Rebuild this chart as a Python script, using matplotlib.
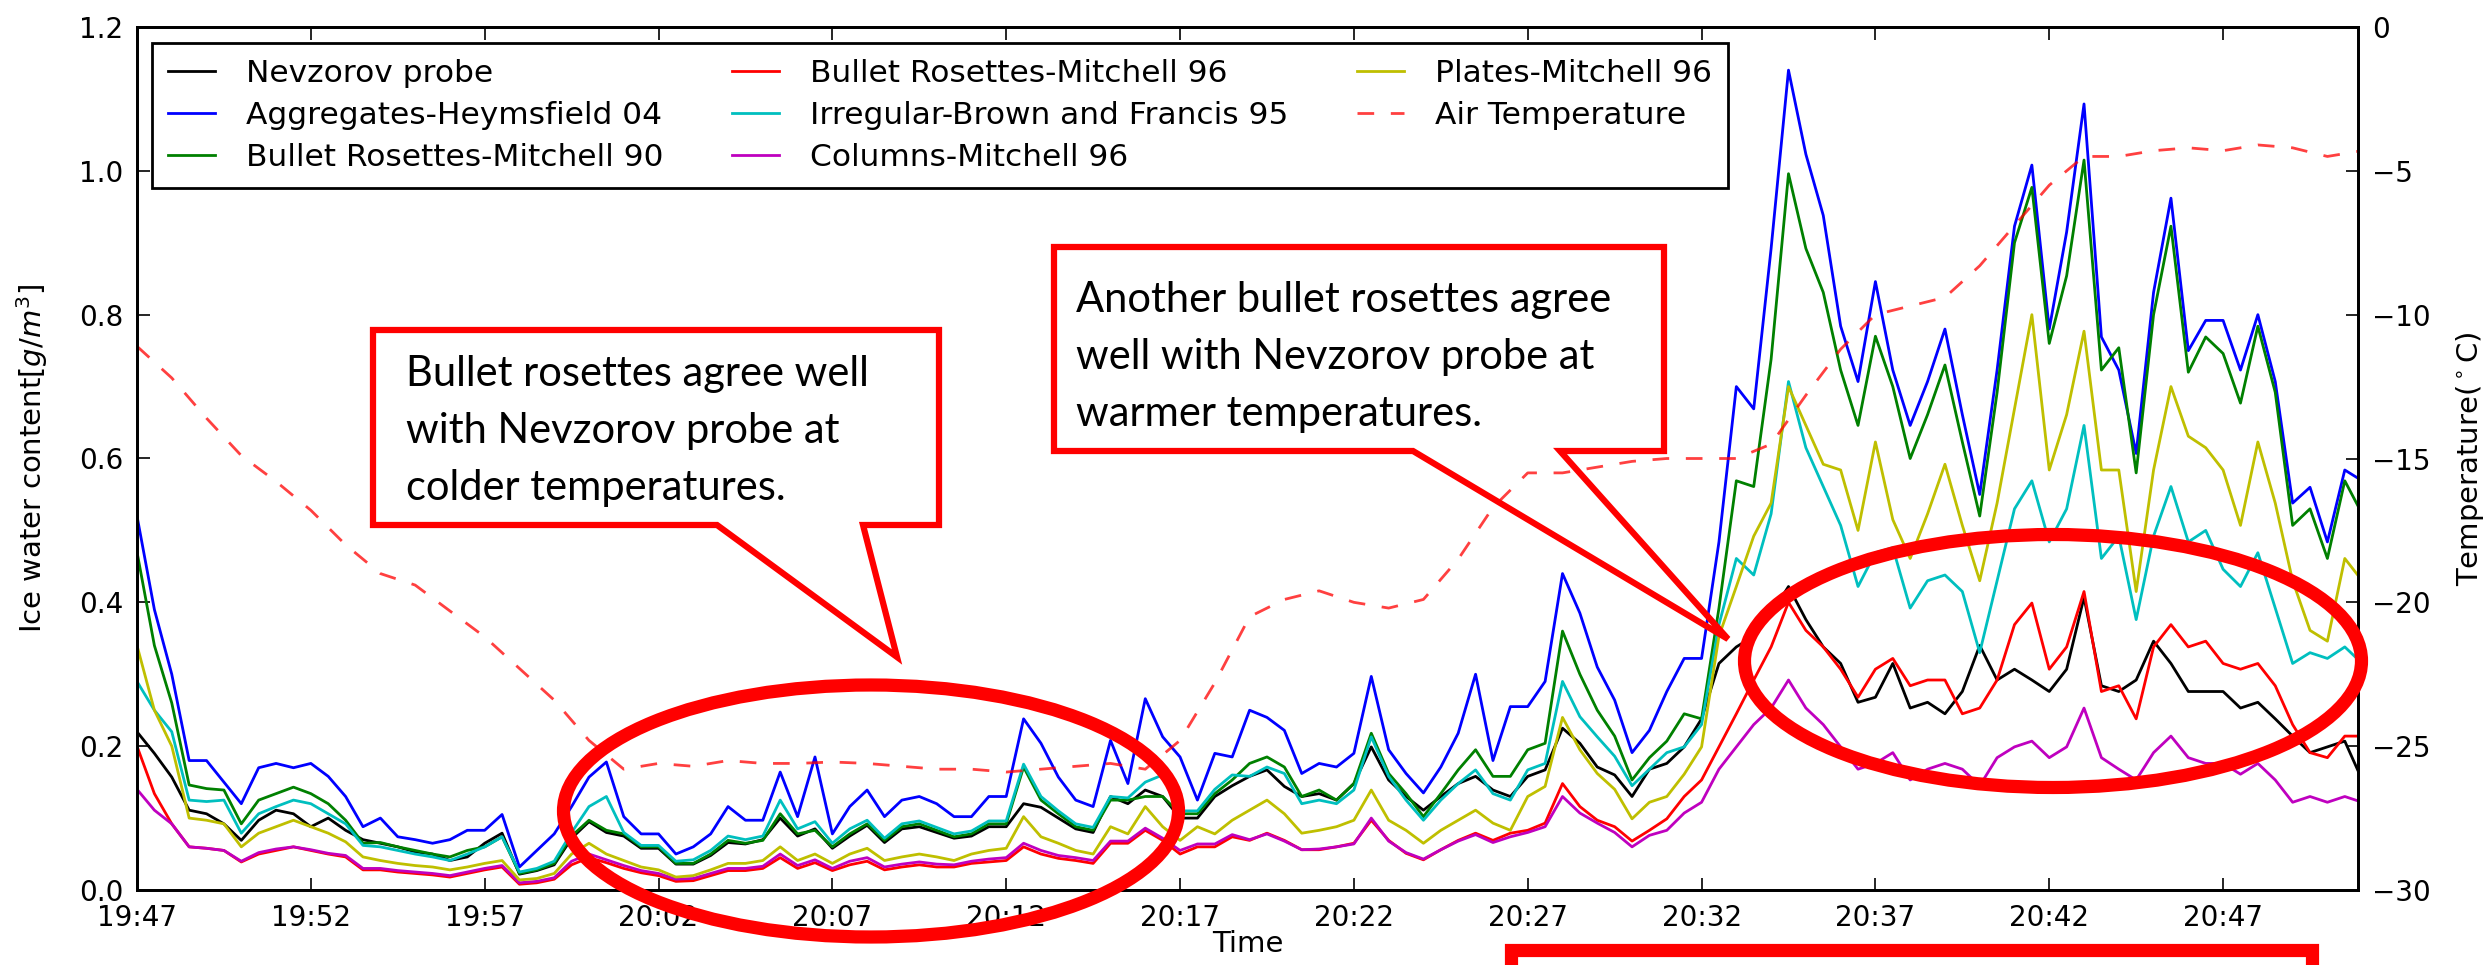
import numpy as np
import pandas as pd
import matplotlib
matplotlib.use("Agg")
import matplotlib.pyplot as plt
import matplotlib.dates as mdates
from matplotlib.patches import Ellipse, Polygon, Rectangle

# ice water content [g/m^3], one sample every 30 s starting 19:47:00
nevzorov = [
    0.22, 0.19, 0.157, 0.111, 0.106, 0.092, 0.069, 0.097, 0.111, 0.106, 0.088,
    0.10, 0.083, 0.07, 0.065, 0.06, 0.053, 0.05, 0.041, 0.046, 0.065, 0.079,
    0.022, 0.027, 0.035, 0.072, 0.095, 0.08, 0.075, 0.058, 0.058, 0.036, 0.036,
    0.048, 0.066, 0.064, 0.07, 0.10, 0.075, 0.085, 0.058, 0.075, 0.09,
    0.066, 0.085, 0.088, 0.08, 0.072, 0.075, 0.088, 0.088, 0.12, 0.115, 0.10,
    0.085, 0.08, 0.13, 0.12, 0.139, 0.13, 0.10, 0.10, 0.13, 0.145,
    0.158, 0.167, 0.144, 0.13, 0.134, 0.125, 0.148, 0.199, 0.153, 0.13, 0.111,
    0.13, 0.148, 0.158, 0.139, 0.13, 0.158, 0.167, 0.225, 0.204, 0.171, 0.16,
    0.13, 0.168, 0.176, 0.199, 0.238, 0.315, 0.338, 0.353, 0.384, 0.422, 0.376,
    0.338, 0.315, 0.261, 0.268, 0.315, 0.253, 0.261, 0.245, 0.276, 0.34,
    0.292, 0.307, 0.292, 0.276, 0.307, 0.407, 0.284, 0.276, 0.292, 0.346, 0.315,
    0.276, 0.276, 0.276, 0.253, 0.261, 0.238, 0.214, 0.191, 0.199, 0.207, 0.153,
]
aggregates_h04 = [
    0.52, 0.39, 0.30, 0.18, 0.18, 0.15, 0.12, 0.17, 0.176, 0.17, 0.176,
    0.158, 0.13, 0.088, 0.10, 0.074, 0.07, 0.065, 0.07, 0.083, 0.083, 0.105,
    0.032, 0.055, 0.078, 0.116, 0.157, 0.178, 0.102, 0.078, 0.078, 0.05, 0.06,
    0.078, 0.116, 0.097, 0.097, 0.164, 0.102, 0.185, 0.078, 0.116, 0.139,
    0.102, 0.125, 0.13, 0.12, 0.102, 0.102, 0.13, 0.13, 0.238, 0.204, 0.157,
    0.125, 0.116, 0.208, 0.148, 0.266, 0.213, 0.185, 0.125, 0.19, 0.185,
    0.25, 0.24, 0.222, 0.162, 0.176, 0.171, 0.19, 0.297, 0.195, 0.162, 0.135,
    0.171, 0.218, 0.30, 0.18, 0.255, 0.255, 0.29, 0.44, 0.385, 0.31, 0.264,
    0.191, 0.222, 0.276, 0.322, 0.322, 0.484, 0.70, 0.669, 0.892, 1.14, 1.023,
    0.938, 0.784, 0.707, 0.846, 0.723, 0.646, 0.707, 0.78, 0.661, 0.55,
    0.723, 0.923, 1.008, 0.78, 0.915, 1.093, 0.769, 0.723, 0.607, 0.831, 0.962,
    0.75, 0.792, 0.792, 0.723, 0.80, 0.707, 0.538, 0.56, 0.484, 0.584, 0.569,
]
rosettes_m90 = [
    0.47, 0.34, 0.26, 0.146, 0.141, 0.139, 0.092, 0.125, 0.134, 0.143, 0.134,
    0.12, 0.097, 0.065, 0.066, 0.06, 0.055, 0.05, 0.046, 0.055, 0.06, 0.074,
    0.023, 0.028, 0.037, 0.075, 0.097, 0.083, 0.078, 0.06, 0.06, 0.037, 0.037,
    0.05, 0.069, 0.065, 0.069, 0.106, 0.078, 0.083, 0.06, 0.078, 0.092,
    0.069, 0.088, 0.092, 0.083, 0.074, 0.078, 0.092, 0.092, 0.171, 0.125, 0.106,
    0.088, 0.083, 0.125, 0.125, 0.13, 0.13, 0.106, 0.106, 0.134, 0.153,
    0.176, 0.185, 0.171, 0.13, 0.139, 0.125, 0.148, 0.218, 0.162, 0.134, 0.102,
    0.134, 0.167, 0.195, 0.158, 0.158, 0.195, 0.204, 0.36, 0.30, 0.25, 0.214,
    0.153, 0.184, 0.207, 0.245, 0.238, 0.392, 0.569, 0.561, 0.738, 0.996, 0.892,
    0.831, 0.723, 0.646, 0.77, 0.70, 0.60, 0.661, 0.73, 0.623, 0.52,
    0.692, 0.90, 0.977, 0.76, 0.854, 1.015, 0.723, 0.754, 0.58, 0.80, 0.923,
    0.72, 0.769, 0.746, 0.677, 0.784, 0.692, 0.507, 0.53, 0.461, 0.569, 0.523,
]
rosettes_m96 = [
    0.20, 0.134, 0.092, 0.06, 0.058, 0.055, 0.039, 0.05, 0.055, 0.06, 0.055,
    0.05, 0.046, 0.028, 0.028, 0.025, 0.023, 0.021, 0.018, 0.023, 0.028, 0.032,
    0.008, 0.01, 0.015, 0.035, 0.045, 0.038, 0.03, 0.024, 0.02, 0.012, 0.013,
    0.02, 0.027, 0.027, 0.03, 0.045, 0.03, 0.038, 0.027, 0.035, 0.04,
    0.028, 0.032, 0.035, 0.032, 0.032, 0.037, 0.039, 0.041, 0.06, 0.05, 0.044,
    0.041, 0.037, 0.065, 0.065, 0.083, 0.069, 0.05, 0.06, 0.06, 0.074,
    0.069, 0.079, 0.069, 0.056, 0.056, 0.06, 0.065, 0.097, 0.069, 0.051, 0.042,
    0.056, 0.069, 0.079, 0.069, 0.079, 0.083, 0.093, 0.148, 0.116, 0.097, 0.088,
    0.068, 0.083, 0.099, 0.13, 0.153, 0.199, 0.245, 0.292, 0.338, 0.40, 0.361,
    0.338, 0.307, 0.268, 0.307, 0.322, 0.284, 0.292, 0.292, 0.245, 0.253,
    0.292, 0.369, 0.399, 0.307, 0.338, 0.415, 0.276, 0.284, 0.238, 0.338, 0.369,
    0.338, 0.346, 0.315, 0.307, 0.315, 0.284, 0.23, 0.191, 0.184, 0.214, 0.214,
]
irregular_bf95 = [
    0.29, 0.25, 0.22, 0.125, 0.123, 0.125, 0.079, 0.106, 0.116, 0.125, 0.12,
    0.106, 0.092, 0.062, 0.06, 0.055, 0.05, 0.046, 0.041, 0.05, 0.06, 0.074,
    0.025, 0.03, 0.04, 0.08, 0.116, 0.13, 0.08, 0.062, 0.062, 0.04, 0.042,
    0.055, 0.075, 0.07, 0.075, 0.125, 0.085, 0.095, 0.065, 0.085, 0.097,
    0.072, 0.092, 0.096, 0.087, 0.078, 0.082, 0.096, 0.096, 0.175, 0.13, 0.11,
    0.092, 0.087, 0.13, 0.128, 0.15, 0.16, 0.11, 0.11, 0.14, 0.16,
    0.158, 0.171, 0.162, 0.12, 0.125, 0.12, 0.139, 0.213, 0.158, 0.125, 0.097,
    0.125, 0.148, 0.167, 0.134, 0.125, 0.167, 0.176, 0.29, 0.241, 0.213, 0.186,
    0.145, 0.168, 0.191, 0.199, 0.23, 0.369, 0.461, 0.438, 0.523, 0.707, 0.615,
    0.561, 0.507, 0.422, 0.469, 0.476, 0.392, 0.43, 0.438, 0.415, 0.33,
    0.43, 0.53, 0.569, 0.484, 0.53, 0.646, 0.461, 0.492, 0.376, 0.492, 0.561,
    0.484, 0.50, 0.446, 0.422, 0.469, 0.392, 0.315, 0.33, 0.322, 0.338, 0.315,
]
columns_m96 = [
    0.14, 0.111, 0.092, 0.06, 0.058, 0.055, 0.04, 0.052, 0.057, 0.06, 0.056,
    0.051, 0.048, 0.03, 0.03, 0.027, 0.025, 0.023, 0.02, 0.025, 0.03, 0.034,
    0.01, 0.012, 0.017, 0.04, 0.05, 0.042, 0.034, 0.027, 0.023, 0.015, 0.016,
    0.023, 0.03, 0.03, 0.033, 0.05, 0.034, 0.042, 0.03, 0.04, 0.045,
    0.032, 0.036, 0.039, 0.036, 0.035, 0.04, 0.043, 0.045, 0.065, 0.055, 0.048,
    0.045, 0.041, 0.068, 0.068, 0.086, 0.072, 0.055, 0.064, 0.064, 0.077,
    0.07, 0.078, 0.068, 0.056, 0.057, 0.06, 0.064, 0.10, 0.068, 0.052, 0.043,
    0.056, 0.068, 0.077, 0.066, 0.074, 0.08, 0.088, 0.13, 0.107, 0.093, 0.08,
    0.06, 0.076, 0.083, 0.107, 0.122, 0.168, 0.199, 0.23, 0.253, 0.292, 0.253,
    0.23, 0.199, 0.168, 0.176, 0.191, 0.153, 0.168, 0.176, 0.168, 0.145,
    0.184, 0.199, 0.207, 0.184, 0.199, 0.253, 0.184, 0.168, 0.153, 0.191, 0.214,
    0.184, 0.176, 0.176, 0.161, 0.176, 0.153, 0.122, 0.13, 0.122, 0.13, 0.122,
]
plates_m96 = [
    0.34, 0.25, 0.20, 0.10, 0.097, 0.092, 0.06, 0.079, 0.088, 0.097, 0.088,
    0.079, 0.067, 0.046, 0.041, 0.037, 0.034, 0.032, 0.028, 0.032, 0.037, 0.041,
    0.014, 0.016, 0.023, 0.05, 0.065, 0.05, 0.041, 0.032, 0.028, 0.018, 0.02,
    0.028, 0.037, 0.037, 0.041, 0.06, 0.041, 0.05, 0.037, 0.05, 0.058,
    0.041, 0.046, 0.05, 0.046, 0.041, 0.05, 0.055, 0.058, 0.102, 0.074, 0.065,
    0.055, 0.05, 0.088, 0.078, 0.116, 0.088, 0.069, 0.088, 0.078, 0.097,
    0.111, 0.125, 0.106, 0.079, 0.083, 0.088, 0.097, 0.139, 0.097, 0.083, 0.065,
    0.083, 0.097, 0.111, 0.093, 0.083, 0.13, 0.144, 0.24, 0.195, 0.162, 0.14,
    0.099, 0.122, 0.13, 0.161, 0.199, 0.353, 0.422, 0.492, 0.538, 0.70, 0.646,
    0.592, 0.584, 0.50, 0.623, 0.515, 0.461, 0.523, 0.592, 0.507, 0.43,
    0.538, 0.669, 0.80, 0.584, 0.661, 0.777, 0.584, 0.584, 0.415, 0.584, 0.70,
    0.631, 0.615, 0.584, 0.507, 0.623, 0.538, 0.43, 0.361, 0.346, 0.461, 0.43,
]

# air temperature [deg C], one value per minute starting 19:47
air_temp = [
    -11.1, -12.2, -13.6, -14.9, -15.8, -16.8, -18.0, -19.0, -19.4, -20.3,
    -21.2, -22.3, -23.4, -24.8, -25.8, -25.6, -25.7, -25.5, -25.6, -25.6,
    -25.55, -25.6, -25.7, -25.8, -25.8, -25.9, -25.8, -25.7, -25.6, -25.8,
    -24.8, -22.8, -20.5, -19.9, -19.6, -20.0, -20.2, -19.9, -18.5, -16.7,
    -15.5, -15.5, -15.3, -15.1, -15.0, -15.0, -15.0, -14.5, -12.8, -11.2,
    -10.0, -9.7, -9.4, -8.3, -6.9, -5.5, -4.5, -4.5, -4.3, -4.2,
    -4.3, -4.1, -4.2, -4.5, -4.3,
]

series = [
    (nevzorov, "k", "Nevzorov probe"),
    (aggregates_h04, "b", "Aggregates-Heymsfield 04"),
    (rosettes_m90, "g", "Bullet Rosettes-Mitchell 90"),
    (rosettes_m96, "r", "Bullet Rosettes-Mitchell 96"),
    (irregular_bf95, "c", "Irregular-Brown and Francis 95"),
    (columns_m96, "m", "Columns-Mitchell 96"),
    (plates_m96, "y", "Plates-Mitchell 96"),
]

start = pd.Timestamp("2016-01-01 19:47:00")
times = pd.date_range(start, periods=len(nevzorov), freq="30s")
temp_times = pd.date_range(start, periods=len(air_temp), freq="60s")

W, H = 2492, 965


def fx(x):
    return x / W


def fy(y):
    return 1 - y / H


plt.rcParams["font.family"] = "DejaVu Sans"
plt.rcParams["mathtext.fontset"] = "dejavusans"

fig = plt.figure(figsize=(W / 100, H / 100), dpi=100)
ax = fig.add_axes([fx(137), fy(890), (2358 - 137) / W, (890 - 27) / H])
ax2 = ax.twinx()

for values, color, label in series:
    ax.plot(times, values, color=color, lw=2.0, label=label)

ax2.plot(temp_times, air_temp, color="r", lw=2.0, alpha=0.75,
         dashes=(6, 6), label="Air Temperature")

ax.set_xlim(start, start + pd.Timedelta(minutes=63.88))
ax.set_ylim(0, 1.2)
ax2.set_ylim(-30, 0)
ax.set_yticks(np.arange(0, 1.21, 0.2))
ax2.set_yticks(np.arange(-30, 1, 5))
ax.xaxis.set_major_locator(mdates.MinuteLocator(byminute=range(2, 60, 5)))
ax.xaxis.set_major_formatter(mdates.DateFormatter("%H:%M"))

ax.tick_params(direction="in", length=9, width=1.2, labelsize=20, pad=10,
               top=True, right=False)
ax2.tick_params(direction="in", length=9, width=1.2, labelsize=20, pad=10)
for a in (ax, ax2):
    for sp in a.spines.values():
        sp.set_linewidth(2)

ax.set_xlabel("Time", fontsize=21)
ax.set_ylabel("Ice water content[$g/m^3$]", fontsize=21)
ax2.set_ylabel("Temperature($^\\circ$C)", fontsize=21)
ax.xaxis.set_label_coords(0.5, -0.046)
ax.yaxis.set_label_coords(-0.039, 0.5)
ax2.yaxis.set_label_coords(1.043, 0.5)

h1, l1 = ax.get_legend_handles_labels()
h2, l2 = ax2.get_legend_handles_labels()
leg = ax2.legend(h1 + h2, l1 + l2, ncol=3, loc="upper left",
                 bbox_to_anchor=(15 / 2221, (890 - 43) / 863), borderaxespad=0,
                 fontsize=22.5, fancybox=False, edgecolor="black", framealpha=1,
                 handlelength=1.5, handletextpad=1.0, columnspacing=2.2,
                 labelspacing=0.42, borderpad=0.5)
leg.get_frame().set_linewidth(2)

# callout boxes
callout1 = [(373, 330), (939, 330), (939, 525), (863, 525), (897, 657),
            (717, 525), (373, 525)]
callout2 = [(1054, 247), (1664, 247), (1664, 451), (1560, 451), (1728, 639),
            (1413, 451), (1054, 451)]
for pts in (callout1, callout2):
    fig.add_artist(Polygon([(fx(x), fy(y)) for x, y in pts], closed=True,
                           transform=fig.transFigure, fill=False,
                           edgecolor="red", lw=4.5, joinstyle="miter"))

note1 = ["Bullet rosettes agree well", "with Nevzorov probe at",
         "colder temperatures."]
note2 = ["Another bullet rosettes agree", "well with Nevzorov probe at",
         "warmer temperatures."]
for i, line in enumerate(note1):
    fig.text(fx(406), fy(386 + 57 * i), line, fontsize=30, family="Lato",
             va="baseline")
for i, line in enumerate(note2):
    fig.text(fx(1076), fy(312 + 57 * i), line, fontsize=30, family="Lato",
             va="baseline")

# red ellipses
fig.add_artist(Ellipse((fx(871), fy(811)), 615 / W, 252 / H,
                       transform=fig.transFigure, fill=False,
                       edgecolor="red", lw=9.5))
fig.add_artist(Ellipse((fx(2053), fy(661)), 617 / W, 253 / H,
                       transform=fig.transFigure, fill=False,
                       edgecolor="red", lw=9.5))

# red box at the bottom right
fig.add_artist(Rectangle((fx(1511), fy(990)), (2312 - 1511) / W, (990 - 950) / H,
                         transform=fig.transFigure, facecolor="white",
                         edgecolor="red", lw=9.5))

fig.savefig("out.png", dpi=100)
